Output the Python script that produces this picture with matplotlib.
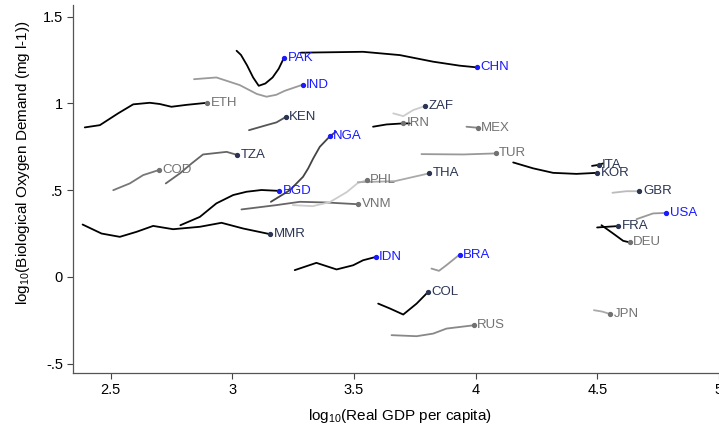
import matplotlib
matplotlib.use("Agg")
import matplotlib.pyplot as plt

# log10 real GDP per capita (x) and log10 BOD (y), one path per country
pak_gdp = [3.017, 3.035, 3.06, 3.085, 3.108, 3.135, 3.165, 3.19, 3.212]
pak_bod = [1.304, 1.28, 1.22, 1.15, 1.102, 1.115, 1.15, 1.2, 1.264]
chn_gdp = [3.281, 3.387, 3.537, 3.688, 3.825, 3.934, 4.006]
chn_bod = [1.293, 1.295, 1.298, 1.279, 1.241, 1.218, 1.208]
ind_gdp = [2.842, 2.934, 3.030, 3.10, 3.140, 3.18, 3.215, 3.288]
ind_bod = [1.140, 1.150, 1.106, 1.055, 1.039, 1.05, 1.073, 1.108]
eth_gdp = [2.393, 2.455, 2.530, 2.592, 2.660, 2.701, 2.749, 2.811, 2.896]
eth_bod = [0.862, 0.875, 0.943, 0.995, 1.004, 0.997, 0.981, 0.992, 1.004]
ken_gdp = [3.068, 3.140, 3.181, 3.219]
ken_bod = [0.846, 0.875, 0.891, 0.922]
nga_gdp = [3.158, 3.236, 3.290, 3.311, 3.332, 3.359, 3.400, 3.425]
nga_bod = [0.433, 0.500, 0.577, 0.625, 0.683, 0.750, 0.810, 0.837]
tza_gdp = [2.726, 2.784, 2.832, 2.879, 2.976, 3.018]
tza_bod = [0.539, 0.597, 0.654, 0.706, 0.721, 0.704]
cod_gdp = [2.510, 2.578, 2.633, 2.697]
cod_bod = [0.500, 0.539, 0.587, 0.616]
bgd_gdp = [2.786, 2.866, 2.934, 3.003, 3.058, 3.119, 3.192]
bgd_bod = [0.298, 0.346, 0.424, 0.472, 0.491, 0.501, 0.496]
vnm_gdp = [3.037, 3.181, 3.277, 3.387, 3.516]
vnm_bod = [0.389, 0.414, 0.433, 0.429, 0.419]
phl_gdp = [3.248, 3.330, 3.400, 3.470, 3.515, 3.552]
phl_bod = [0.414, 0.408, 0.431, 0.489, 0.541, 0.558]
tha_gdp = [3.515, 3.667, 3.808]
tha_bod = [0.546, 0.552, 0.597]
mmr_gdp = [2.384, 2.462, 2.537, 2.606, 2.674, 2.756, 2.866, 2.955, 3.044, 3.156]
mmr_bod = [0.302, 0.250, 0.231, 0.260, 0.294, 0.275, 0.289, 0.312, 0.279, 0.246]
idn_gdp = [3.256, 3.345, 3.428, 3.496, 3.537, 3.589]
idn_bod = [0.039, 0.081, 0.043, 0.067, 0.096, 0.115]
col_gdp = [3.599, 3.647, 3.702, 3.757, 3.804]
col_bod = [-0.154, -0.182, -0.217, -0.154, -0.087]
rus_gdp = [3.654, 3.757, 3.825, 3.880, 3.992]
rus_bod = [-0.336, -0.342, -0.327, -0.298, -0.279]
bra_gdp = [3.818, 3.849, 3.880, 3.934]
bra_bod = [0.048, 0.035, 0.068, 0.129]
zaf_gdp = [3.661, 3.702, 3.743, 3.791]
zaf_bod = [0.943, 0.927, 0.962, 0.985]
irn_gdp = [3.578, 3.633, 3.701, 3.729]
irn_bod = [0.866, 0.879, 0.885, 0.885]
mex_gdp = [3.962, 4.008]
mex_bod = [0.866, 0.860]
tur_gdp = [3.777, 3.95, 4.082]
tur_bod = [0.708, 0.706, 0.712]
kor_gdp = [4.154, 4.236, 4.318, 4.414, 4.499]
kor_bod = [0.660, 0.626, 0.600, 0.594, 0.600]
ita_gdp = [4.478, 4.505, 4.523]
ita_bod = [0.640, 0.646, 0.654]
gbr_gdp = [4.562, 4.619, 4.673]
gbr_bod = [0.485, 0.494, 0.494]
usa_gdp = [4.661, 4.729, 4.784]
usa_bod = [0.333, 0.366, 0.369]
fra_gdp = [4.499, 4.54, 4.585]
fra_bod = [0.285, 0.289, 0.293]
deu_gdp = [4.517, 4.565, 4.606, 4.633]
deu_bod = [0.298, 0.250, 0.208, 0.199]
jpn_gdp = [4.486, 4.52, 4.554]
jpn_bod = [-0.192, -0.200, -0.215]

countries = ["PAK", "CHN", "IND", "ETH", "KEN", "NGA", "TZA", "COD", "BGD", "VNM",
             "PHL", "THA", "MMR", "IDN", "COL", "RUS", "BRA", "ZAF", "IRN", "MEX",
             "TUR", "KOR", "ITA", "GBR", "USA", "FRA", "DEU", "JPN"]
paths = [(pak_gdp, pak_bod), (chn_gdp, chn_bod), (ind_gdp, ind_bod), (eth_gdp, eth_bod),
         (ken_gdp, ken_bod), (nga_gdp, nga_bod), (tza_gdp, tza_bod), (cod_gdp, cod_bod),
         (bgd_gdp, bgd_bod), (vnm_gdp, vnm_bod), (phl_gdp, phl_bod), (tha_gdp, tha_bod),
         (mmr_gdp, mmr_bod), (idn_gdp, idn_bod), (col_gdp, col_bod), (rus_gdp, rus_bod),
         (bra_gdp, bra_bod), (zaf_gdp, zaf_bod), (irn_gdp, irn_bod), (mex_gdp, mex_bod),
         (tur_gdp, tur_bod), (kor_gdp, kor_bod), (ita_gdp, ita_bod), (gbr_gdp, gbr_bod),
         (usa_gdp, usa_bod), (fra_gdp, fra_bod), (deu_gdp, deu_bod), (jpn_gdp, jpn_bod)]
# latest observation (labelled dot); not always the end of the smoothed path
label_gdp = [3.212, 4.006, 3.288, 2.896, 3.219, 3.400, 3.018, 2.697, 3.192, 3.516,
             3.552, 3.808, 3.156, 3.589, 3.804, 3.992, 3.934, 3.791, 3.701, 4.008,
             4.082, 4.499, 4.505, 4.673, 4.784, 4.585, 4.633, 4.554]
label_bod = [1.264, 1.208, 1.108, 1.004, 0.922, 0.810, 0.704, 0.616, 0.496, 0.419,
             0.558, 0.597, 0.246, 0.115, -0.087, -0.279, 0.129, 0.985, 0.885, 0.860,
             0.712, 0.600, 0.646, 0.494, 0.369, 0.293, 0.199, -0.215]
group = ["big", "big", "big", "other", "mid", "big", "mid", "other", "big", "other",
         "other", "mid", "mid", "big", "mid", "other", "big", "mid", "other", "other",
         "other", "mid", "mid", "mid", "big", "mid", "other", "other"]

line_color = {"PAK": "black", "CHN": "black", "IND": "#9a9a9a", "ETH": "black",
              "KEN": "#555555", "NGA": "#444444", "TZA": "#666666", "COD": "#777777",
              "BGD": "black", "VNM": "#666666", "PHL": "#cccccc", "THA": "#aaaaaa",
              "MMR": "black", "IDN": "black", "COL": "black", "RUS": "#888888",
              "BRA": "#999999", "ZAF": "#cccccc", "IRN": "black", "MEX": "#888888",
              "TUR": "#999999", "KOR": "black", "ITA": "black", "GBR": "#bbbbbb",
              "USA": "#999999", "FRA": "black", "DEU": "black", "JPN": "#aaaaaa"}
text_color = {"big": "#1a1aff", "mid": "#2b3553", "other": "#727272"}

plt.rcParams["font.family"] = ["Liberation Sans", "DejaVu Sans"]
plt.rcParams["mathtext.fontset"] = "custom"
plt.rcParams["mathtext.rm"] = "Liberation Sans"
plt.rcParams["mathtext.it"] = "Liberation Sans"

fig = plt.figure(figsize=(7.19, 4.25), dpi=100)
ax = fig.add_axes([0.101, 0.1216, 0.899, 0.8667])

for name, (xs, ys), lx, ly, g in zip(countries, paths, label_gdp, label_bod, group):
    ax.plot(xs, ys, color=line_color[name], lw=1.3, solid_capstyle="round", zorder=2)
    ax.plot([lx], [ly], "o", ms=2.8, color=text_color[g], zorder=3)
    ax.annotate(name, (lx, ly), xytext=(2.5, 0), textcoords="offset points",
                va="center", ha="left", fontsize=9.5, color=text_color[g])

ax.set_xlim(2.343, 5.0)
ax.set_ylim(-0.556, 1.568)
ax.set_xticks([2.5, 3, 3.5, 4, 4.5, 5])
ax.set_xticklabels(["2.5", "3", "3.5", "4", "4.5", "5"])
ax.set_yticks([-0.5, 0, 0.5, 1, 1.5])
ax.set_yticklabels(["-.5", "0", ".5", "1", "1.5"])
ax.tick_params(labelsize=10.5, length=4, width=0.8, color="#444444", pad=3)
for s in ["top", "right"]:
    ax.spines[s].set_visible(False)
for s in ["left", "bottom"]:
    ax.spines[s].set_color("#555555")
    ax.spines[s].set_linewidth(0.9)

ax.set_xlabel("log$_{10}$(Real GDP per capita)", fontsize=11)
ax.set_ylabel("log$_{10}$(Biological Oxygen Demand (mg l-1))", fontsize=11)
ax.xaxis.set_label_coords(0.506, -0.0915)
ax.yaxis.set_label_coords(-0.063, 0.571)

fig.savefig("out.png", dpi=100)
